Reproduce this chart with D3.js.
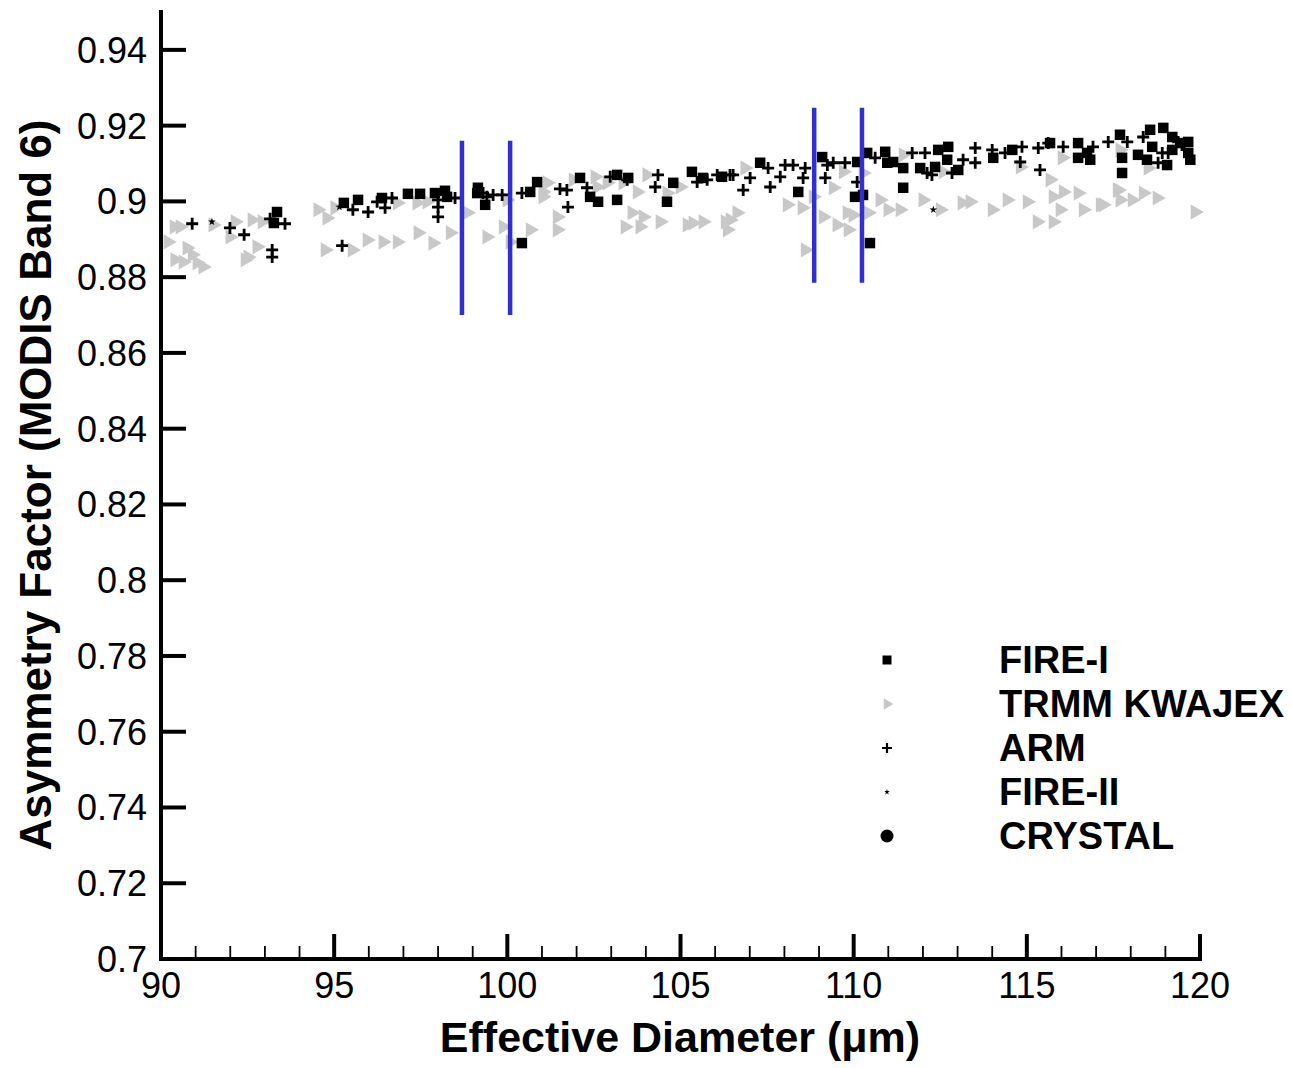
<!DOCTYPE html>
<html><head><meta charset="utf-8">
<script src="https://cdn.jsdelivr.net/npm/d3@7"></script>
<style>body{margin:0;background:#fff}svg{display:block}</style>
</head><body>
<svg id="c" width="1292" height="1068"></svg>
<script>
// ---- data ----
const xTicks = [90, 95, 100, 105, 110, 115, 120];
const yTicks = [0.7, 0.72, 0.74, 0.76, 0.78, 0.8, 0.82, 0.84, 0.86, 0.88, 0.9, 0.92, 0.94];
const yTickLabels = ["0.7","0.72","0.74","0.76","0.78","0.8","0.82","0.84","0.86","0.88","0.9","0.92","0.94"];
const legendNames = ["FIRE-I", "TRMM KWAJEX", "ARM", "FIRE-II", "CRYSTAL"];

const fire1 = [
 [93.35,0.8972],[93.26,0.8943],[95.28,0.8996],[95.69,0.9004],[96.38,0.9009],[97.13,0.9020],[97.48,0.9020],
 [97.91,0.9022],[98.20,0.9028],[98.26,0.9012],[99.15,0.9036],[99.13,0.9022],[99.36,0.8991],[100.86,0.9051],
 [100.66,0.9025],[100.42,0.8890],[102.10,0.9062],[102.39,0.9012],[102.62,0.8999],[103.17,0.9004],[103.17,0.9070],
 [104.61,0.8999],[104.79,0.9049],[105.33,0.9078],[105.65,0.9062],[106.20,0.9065],[103.49,0.9062],
 [107.30,0.9102],[109.09,0.9117],[108.40,0.9025],[110.04,0.9012],[110.27,0.9017],[110.47,0.8890],[110.39,0.9128],
 [110.91,0.9131],[110.97,0.9102],[111.43,0.9088],[111.43,0.9036],[111.92,0.9088],[111.14,0.9104],[110.10,0.9104],
 [112.44,0.9136],[112.73,0.9144],[112.70,0.9110],[112.35,0.9091],[113.02,0.9083],[114.03,0.9115],[114.58,0.9136],
 [116.48,0.9154],[116.48,0.9115],[116.83,0.9110],[115.67,0.9154],[116.74,0.9128],
 [117.69,0.9176],[117.75,0.9115],[117.75,0.9075],[118.56,0.9189],[118.62,0.9144],[118.21,0.9123],[118.94,0.9194],
 [119.20,0.9170],[119.05,0.9096],[119.43,0.9154],[119.66,0.9157],[119.66,0.9128],[119.72,0.9110],[118.47,0.9110],[119.20,0.9136]
];

const trmm = [
 [90.38,0.8933],[90.55,0.8933],[90.20,0.8893],[90.75,0.8877],[90.90,0.8859],[90.40,0.8846],[90.64,0.8840],
 [91.04,0.8838],[91.21,0.8827],[91.50,0.8938],[91.99,0.8906],[92.14,0.8946],[92.63,0.8951],[92.92,0.8946],
 [92.77,0.8880],[92.51,0.8853],[92.43,0.8846],[94.53,0.8978],[94.79,0.8956],[95.02,0.8983],[94.74,0.8872],[95.52,0.8872],
 [95.95,0.8898],[96.41,0.8893],[96.82,0.8893],[97.42,0.8917],[97.85,0.8890],[98.35,0.8917],[98.84,0.8970],
 [99.41,0.8906],[99.88,0.8933],[100.08,0.8893],[100.66,0.8925],[101.03,0.9025],[96.82,0.8996],[97.39,0.8996],
 [99.99,0.9004],[97.68,0.8999],
 [101.03,0.9012],[101.44,0.8959],[101.44,0.8925],[101.90,0.9057],[102.53,0.9065],[102.59,0.9038],[102.88,0.9049],
 [103.34,0.9049],[103.75,0.9025],[103.60,0.8970],[103.92,0.8959],[104.41,0.8946],[103.40,0.8933],[103.83,0.8933],
 [104.61,0.9022],[104.99,0.9038],[105.19,0.8938],[105.36,0.8943],[105.65,0.8946],[106.29,0.8946],[106.35,0.8925],
 [106.63,0.8970],[104.03,0.9070],[101.15,0.9049],
 [106.86,0.9088],[108.08,0.8991],[108.51,0.8983],[108.83,0.9012],[109.12,0.8959],[109.41,0.9036],[109.52,0.8938],
 [109.84,0.8925],[109.81,0.8970],[109.98,0.8964],[110.42,0.8970],[110.76,0.9004],[110.99,0.8978],[111.34,0.8978],
 [108.60,0.8872],[111.43,0.9123],[112.00,0.9004],[109.70,0.9078],[110.27,0.9075],[106.43,0.8951],
 [112.58,0.9078],[113.13,0.8996],[113.36,0.8999],[114.00,0.8978],[114.43,0.9004],[115.01,0.8999],[115.67,0.9057],
 [115.76,0.9012],[115.96,0.8978],[116.48,0.9022],[116.05,0.9025],[116.63,0.8978],[117.12,0.8991],[117.61,0.9030],
 [115.30,0.8946],[115.76,0.8946],[116.02,0.9115],[114.81,0.9091],[112.50,0.8978],
 [117.64,0.9030],[117.69,0.9004],[118.04,0.9004],[118.36,0.9022],[118.76,0.9009],[119.86,0.8972],[118.50,0.9088],
 [117.20,0.8991],[117.69,0.9136]
];

const arm = [
 [90.90,0.8941],[91.99,0.8930],[92.40,0.8912],[93.58,0.8941],[93.15,0.8954],[93.21,0.8872],[93.21,0.8853],
 [95.23,0.8883],[95.54,0.8978],
 [95.98,0.8972],[96.24,0.8999],[96.47,0.8983],[96.67,0.9009],[98.00,0.9004],[98.00,0.8985],[98.00,0.8959],
 [98.49,0.9009],[99.30,0.9022],[99.41,0.9012],[99.59,0.9017],[99.85,0.9017],[100.42,0.9022],
 [101.52,0.9033],[101.72,0.9030],[101.75,0.8985],[102.30,0.9036],[102.97,0.9065],[103.46,0.9057],[104.35,0.9070],
 [104.27,0.9038],[105.48,0.9051],[105.77,0.9057],[106.06,0.9070],[106.43,0.9070],
 [106.52,0.9070],[106.81,0.9030],[107.01,0.9062],[107.53,0.9088],[107.59,0.9038],[107.88,0.9065],[108.02,0.9096],
 [108.25,0.9096],[108.54,0.9062],[109.24,0.9096],[109.18,0.9062],[109.75,0.9102],[110.10,0.9051],[110.62,0.9115],
 [111.69,0.9128],[112.06,0.9128],[112.12,0.9075],[108.60,0.9088],[109.41,0.9102],
 [112.26,0.9070],[112.84,0.9075],[113.16,0.9110],[113.51,0.9141],[113.51,0.9102],[114.00,0.9136],[114.37,0.9128],
 [114.86,0.9144],[114.81,0.9104],[115.33,0.9141],[115.38,0.9083],[115.62,0.9154],[116.05,0.9144],[116.91,0.9144],
 [117.35,0.9157],[117.90,0.9157],[118.36,0.9170],[118.91,0.9128],[118.79,0.9102],[119.37,0.9157],[119.48,0.9149],[119.08,0.9128]
];

const fire2 = [[91.47,0.8946],[95.15,0.8985],[112.30,0.8978]];
const crystal = [];

// blue reference lines: [x, yBottom, yTop]
const blueLines = [[98.69,0.870,0.916],[100.08,0.870,0.916],[108.86,0.8785,0.9247],[110.24,0.8785,0.9247]];

// ---- chart ----
const svg = d3.select("#c");
const x = d3.scaleLinear().domain([90,120]).range([161,1200]);
const y = d3.scaleLinear().domain([0.7,0.95]).range([959,12]);
const font = "'Liberation Sans', Arial, Helvetica, sans-serif";

// data layers
const tri = d3.symbol().type(d3.symbolTriangle).size(100);
svg.append("g").selectAll("path").data(trmm).join("path")
  .attr("d", tri).attr("fill", "#c8c8c8")
  .attr("transform", d => `translate(${x(d[0])},${y(d[1])}) rotate(90)`);

svg.append("g").selectAll("rect").data(fire1).join("rect")
  .attr("x", d => x(d[0]) - 5.25).attr("y", d => y(d[1]) - 5.25)
  .attr("width", 10.5).attr("height", 10.5).attr("fill", "#000");

const plusPath = (s) => `M${-s},0H${s}M0,${-s}V${s}`;
svg.append("g").selectAll("path").data(arm).join("path")
  .attr("d", plusPath(6)).attr("stroke", "#000").attr("stroke-width", 2.8).attr("fill", "none")
  .attr("transform", d => `translate(${x(d[0])},${y(d[1])})`);

const star = d3.symbol().type(d3.symbolStar).size(18);
svg.append("g").selectAll("path").data(fire2).join("path")
  .attr("d", star).attr("fill", "#000")
  .attr("transform", d => `translate(${x(d[0])},${y(d[1])})`);

svg.append("g").selectAll("circle").data(crystal).join("circle")
  .attr("cx", d => x(d[0])).attr("cy", d => y(d[1])).attr("r", 6).attr("fill", "#000");

// blue lines
svg.append("g").selectAll("line").data(blueLines).join("line")
  .attr("x1", d => x(d[0])).attr("x2", d => x(d[0]))
  .attr("y1", d => y(d[1])).attr("y2", d => y(d[2]))
  .attr("stroke", "#2f2fd2").attr("stroke-width", 4.5);

// axes
const ax = svg.append("g");
ax.append("line").attr("x1", x(90)).attr("x2", x(120)).attr("y1", y(0.7)).attr("y2", y(0.7))
  .attr("stroke", "#000").attr("stroke-width", 4).attr("stroke-linecap", "square");
ax.append("line").attr("x1", x(90)).attr("x2", x(90)).attr("y1", y(0.7)).attr("y2", 10)
  .attr("stroke", "#000").attr("stroke-width", 4);

const minorX = d3.range(90, 121, 1).filter(v => v % 5 !== 0);
ax.append("g").selectAll("line").data(minorX).join("line")
  .attr("x1", d => x(d)).attr("x2", d => x(d)).attr("y1", y(0.7)).attr("y2", y(0.7) - 13)
  .attr("stroke", "#000").attr("stroke-width", 1.8);
ax.append("g").selectAll("line").data(xTicks).join("line")
  .attr("x1", d => x(d)).attr("x2", d => x(d)).attr("y1", y(0.7)).attr("y2", y(0.7) - 25)
  .attr("stroke", "#000").attr("stroke-width", 4);
ax.append("g").selectAll("line").data(yTicks).join("line")
  .attr("x1", x(90)).attr("x2", x(90) + 25).attr("y1", d => y(d)).attr("y2", d => y(d))
  .attr("stroke", "#000").attr("stroke-width", 4);

ax.append("g").selectAll("text").data(xTicks).join("text")
  .attr("x", d => x(d)).attr("y", 998).attr("text-anchor", "middle")
  .attr("font-family", font).attr("font-size", 36).text(d => d);
ax.append("g").selectAll("text").data(yTicks).join("text")
  .attr("x", 147).attr("y", (d) => y(d) + 13).attr("text-anchor", "end")
  .attr("font-family", font).attr("font-size", 36).text((d, i) => yTickLabels[i]);

// titles
svg.append("text").attr("x", 680).attr("y", 1052).attr("text-anchor", "middle")
  .attr("font-family", font).attr("font-weight", "bold").attr("font-size", 43)
  .text("Effective Diameter (\u03bcm)");
svg.append("text").attr("transform", "translate(51,485) rotate(-90)").attr("text-anchor", "middle")
  .attr("font-family", font).attr("font-weight", "bold").attr("font-size", 44)
  .text("Asymmetry Factor (MODIS Band 6)");

// legend
const lg = svg.append("g");
const rowY = i => 660 + i * 44;
const lx = 887;
lg.append("rect").attr("x", lx - 4.5).attr("y", rowY(0) - 4.5).attr("width", 9).attr("height", 9).attr("fill", "#000");
lg.append("path").attr("d", d3.symbol().type(d3.symbolTriangle).size(55)).attr("fill", "#c8c8c8")
  .attr("transform", `translate(${lx},${rowY(1)}) rotate(90)`);
lg.append("path").attr("d", plusPath(5)).attr("stroke", "#000").attr("stroke-width", 2.2)
  .attr("transform", `translate(${lx},${rowY(2)})`);
lg.append("path").attr("d", d3.symbol().type(d3.symbolStar).size(10)).attr("fill", "#000")
  .attr("transform", `translate(${lx},${rowY(3)})`);
lg.append("circle").attr("cx", lx).attr("cy", rowY(4)).attr("r", 6.5).attr("fill", "#000");
lg.selectAll("text").data(legendNames).join("text")
  .attr("x", 999).attr("y", (d, i) => rowY(i) + 13)
  .attr("font-family", font).attr("font-weight", "bold").attr("font-size", 38).text(d => d);
</script>
</body></html>
